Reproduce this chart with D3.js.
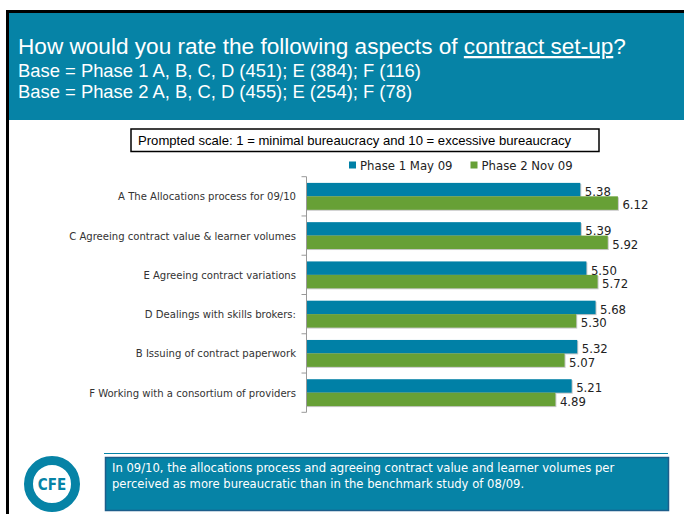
<!DOCTYPE html>
<html>
<head>
<meta charset="utf-8">
<script src="https://cdn.jsdelivr.net/npm/d3@7"></script>
<style>
  html, body { margin: 0; padding: 0; background: #fff; }
  svg { display: block; }
</style>
</head>
<body>
<script>
const categories = [
  "A The Allocations process for 09/10",
  "C Agreeing contract value & learner volumes",
  "E Agreeing contract variations",
  "D Dealings with skills brokers:",
  "B Issuing of contract paperwork",
  "F Working with a consortium of providers"
];
const seriesNames = ["Phase 1 May 09", "Phase 2 Nov 09"];
const phase1 = [5.38, 5.39, 5.50, 5.68, 5.32, 5.21];
const phase2 = [6.12, 5.92, 5.72, 5.30, 5.07, 4.89];
const titleParts = ["How would you rate the following aspects of ", "contract set-up", "?"];
const baseLines = [
  "Base = Phase 1 A, B, C, D (451); E (384); F (116)",
  "Base = Phase 2 A, B, C, D (455); E (254); F (78)"
];
const scaleNote = "Prompted scale: 1 = minimal bureaucracy and 10 = excessive bureaucracy";
const commentLines = [
  "In 09/10, the allocations process and agreeing contract value and learner volumes per",
  "perceived as more bureaucratic than in the benchmark study of 08/09."
];

const W = 684, H = 514;
const TEAL = "#0683a6", BLUE = "#0080a6", GREEN = "#67a036";
const tahoma = "Tahoma, 'DejaVu Sans Condensed', 'DejaVu Sans', sans-serif";
const arial = "Arial, 'Liberation Sans', sans-serif";

const svg = d3.select("body").append("svg").attr("width", W).attr("height", H);
svg.append("rect").attr("width", W).attr("height", H).attr("fill", "#fff");

// Frame: black top & left lines, teal header
svg.append("rect").attr("x", 6).attr("y", 10).attr("width", W - 6).attr("height", 3).attr("fill", "#000");
svg.append("rect").attr("x", 6).attr("y", 10).attr("width", 3).attr("height", H - 10).attr("fill", "#000");
svg.append("rect").attr("x", 9).attr("y", 13).attr("width", W - 9).attr("height", 107).attr("fill", TEAL);

// Title
const title = svg.append("text").attr("x", 18).attr("y", 54)
  .attr("font-family", arial).attr("font-size", 22.6).attr("fill", "#fff");
title.append("tspan").text(titleParts[0]);
title.append("tspan").attr("text-decoration", "underline").text(titleParts[1]);
title.append("tspan").text(titleParts[2]);
svg.selectAll("text.base").data(baseLines).join("text").attr("class", "base")
  .attr("x", 18).attr("y", (d, i) => 77 + i * 21)
  .attr("font-family", arial).attr("font-size", 18.4).attr("fill", "#fff")
  .text(d => d);

// Prompted scale box
svg.append("rect").attr("x", 131).attr("y", 129).attr("width", 468).attr("height", 22.5)
  .attr("fill", "#fff").attr("stroke", "#000").attr("stroke-width", 1.5);
svg.append("text").attr("x", 138).attr("y", 145)
  .attr("font-family", arial).attr("font-size", 13.1).attr("fill", "#000").text(scaleNote);

// Scales
const x = d3.scaleLinear().domain([0, 7]).range([307, 662.6]);
const y = d3.scaleBand().domain(categories).range([176.7, 412.3]).paddingInner(0).paddingOuter(0);
const sub = d3.scaleBand().domain(seriesNames).range([0, y.bandwidth()]).paddingInner(0).paddingOuter(0.46);
const colors = d3.scaleOrdinal().domain(seriesNames).range([BLUE, GREEN]);

// Legend
const legX = [349, 470.5];
const leg = svg.selectAll("g.leg").data(seriesNames).join("g").attr("class", "leg")
  .attr("transform", (d, i) => `translate(${legX[i]},165)`);
leg.append("rect").attr("x", 0).attr("y", -3.5).attr("width", 7).attr("height", 7).attr("fill", d => colors(d));
leg.append("text").attr("x", 11).attr("y", 4.5).attr("font-family", tahoma).attr("font-size", 13)
  .attr("fill", "#222").text(d => d);

// Bars
const rows = categories.map((c, i) => ({ cat: c, vals: [phase1[i], phase2[i]] }));
const g = svg.append("g");
const row = g.selectAll("g.row").data(rows).join("g").attr("class", "row")
  .attr("transform", d => `translate(0,${y(d.cat)})`);
row.selectAll("rect.shadow").data(d => d.vals.map((v, k) => ({ s: seriesNames[k], v })))
  .join("rect").attr("class", "shadow")
  .attr("x", x(0)).attr("y", d => sub(d.s) + 1)
  .attr("width", d => x(d.v) - x(0) + 1).attr("height", sub.bandwidth())
  .attr("fill", "#c8c8c8");
row.selectAll("rect.bar").data(d => d.vals.map((v, k) => ({ s: seriesNames[k], v })))
  .join("rect").attr("class", "bar")
  .attr("x", x(0)).attr("y", d => sub(d.s))
  .attr("width", d => x(d.v) - x(0)).attr("height", sub.bandwidth())
  .attr("fill", d => colors(d.s));
row.selectAll("text.val").data(d => d.vals.map((v, k) => ({ s: seriesNames[k], v })))
  .join("text").attr("class", "val")
  .attr("x", d => x(d.v) + 4.5).attr("y", d => sub(d.s) + sub.bandwidth() - 0.3)
  .attr("font-family", tahoma).attr("font-size", 13).attr("fill", "#222")
  .text(d => d3.format(".2f")(d.v));

// Axis line & ticks at category boundaries
const axisColor = "#999";
svg.append("line").attr("x1", x(0) - 0.5).attr("x2", x(0) - 0.5)
  .attr("y1", y.range()[0]).attr("y2", y.range()[1]).attr("stroke", axisColor);
const tickYs = categories.map(c => y(c)).concat([y.range()[1]]);
svg.selectAll("line.tick").data(tickYs).join("line").attr("class", "tick")
  .attr("x1", x(0) - 5.5).attr("x2", x(0) - 0.5).attr("y1", d => d).attr("y2", d => d)
  .attr("stroke", axisColor);
svg.selectAll("text.cat").data(categories).join("text").attr("class", "cat")
  .attr("x", 296).attr("y", d => y(d) + y.bandwidth() / 2 + 4)
  .attr("text-anchor", "end").attr("font-family", tahoma).attr("font-size", 11.2)
  .attr("fill", "#333").text(d => d);

// Bottom: line, comment box, logo
svg.append("line").attr("x1", 104).attr("x2", 668).attr("y1", 453.5).attr("y2", 453.5)
  .attr("stroke", TEAL).attr("stroke-width", 1.2);
svg.append("rect").attr("x", 105.5).attr("y", 457.5).attr("width", 563).attr("height", 53)
  .attr("fill", TEAL).attr("stroke", "#1c5e8a").attr("stroke-width", 1.5);
svg.selectAll("text.cmt").data(commentLines).join("text").attr("class", "cmt")
  .attr("x", 112).attr("y", (d, i) => 472 + i * 15.5)
  .attr("font-family", tahoma).attr("font-size", 12.9).attr("fill", "#fff").text(d => d);

svg.append("circle").attr("cx", 52).attr("cy", 484).attr("r", 23.5)
  .attr("fill", "#fff").attr("stroke", TEAL).attr("stroke-width", 9);
svg.append("text").attr("x", 52).attr("y", 490).attr("text-anchor", "middle")
  .attr("font-family", tahoma).attr("font-weight", "bold").attr("font-size", 15)
  .attr("fill", TEAL).text("CFE");
</script>
</body>
</html>
